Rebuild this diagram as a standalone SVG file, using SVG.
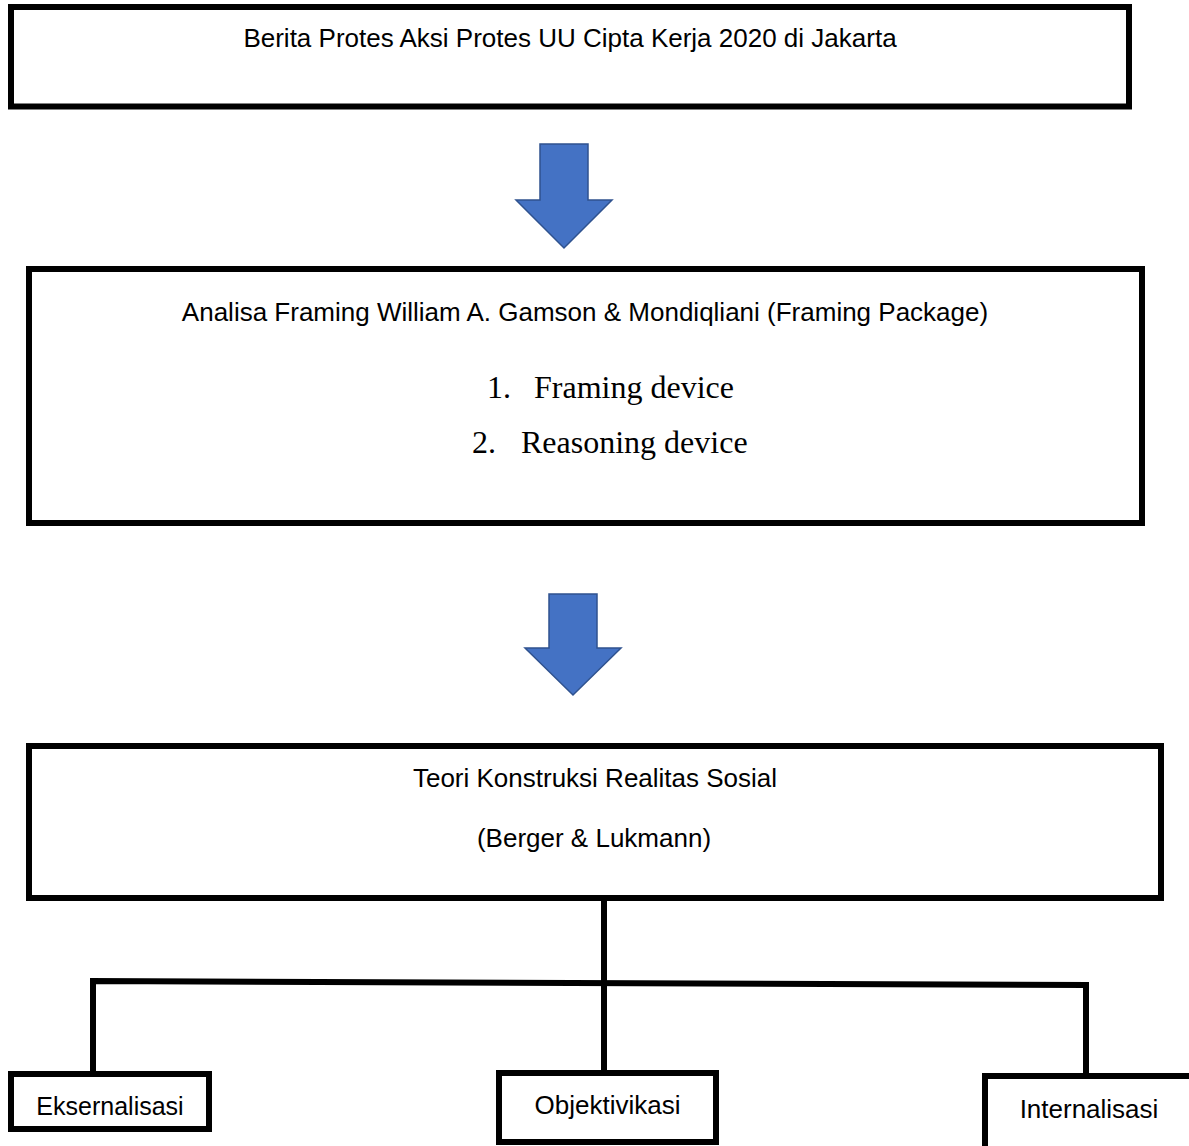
<svg xmlns="http://www.w3.org/2000/svg" width="1189" height="1146" viewBox="0 0 1189 1146">
<style>
.box{fill:#fff;stroke:#000;stroke-width:6}
.t{font-family:"Liberation Sans",Arial,sans-serif;font-size:26px;fill:#000;text-anchor:middle}
.s{font-family:"Liberation Serif","Times New Roman",serif;font-size:32px;fill:#000}
.arr{fill:#4472C4;stroke:#2F528F;stroke-width:1.5}
.con{fill:none;stroke:#000;stroke-width:6;stroke-linejoin:miter}
</style>
<rect width="1189" height="1146" fill="#fff"/>
<g id="connectors">
<path class="arr" d="M540,144 H588 V200 H612 L564,248 L516,200 H540 Z"/>
<path class="arr" d="M549,594 H597 V648 H621 L573,695 L525,648 H549 Z"/>
<path class="con" d="M604,898 V1073"/>
<path class="con" d="M93,1073 V981 L1086,985 V1076"/>
</g>
<g id="n1">
<rect class="box" x="11" y="7" width="1118" height="99.5"/>
<text class="t" x="570" y="47">Berita Protes Aksi Protes UU Cipta Kerja 2020 di Jakarta</text>
</g>
<g id="n2">
<rect class="box" x="29" y="269" width="1113" height="254"/>
<text class="t" x="585" y="321">Analisa Framing William A. Gamson &amp; Mondiqliani (Framing Package)</text>
<text class="s" x="487" y="398">1.</text>
<text class="s" x="534" y="398">Framing device</text>
<text class="s" x="472" y="453">2.</text>
<text class="s" x="521" y="453">Reasoning device</text>
</g>
<g id="n3">
<rect class="box" x="29" y="746" width="1132" height="152"/>
<text class="t" x="595" y="787">Teori Konstruksi Realitas Sosial</text>
<text class="t" x="594" y="847">(Berger &amp; Lukmann)</text>
</g>
<g id="n4">
<rect class="box" x="11" y="1074" width="198" height="55"/>
<text class="t" x="110" y="1115" style="font-size:25px">Eksernalisasi</text>
</g>
<g id="n5">
<rect class="box" x="499" y="1073" width="217" height="69"/>
<text class="t" x="607.5" y="1114">Objektivikasi</text>
</g>
<g id="n6">
<rect class="box" x="985" y="1076" width="220" height="80"/>
<text class="t" x="1089" y="1118">Internalisasi</text>
</g>
</svg>
